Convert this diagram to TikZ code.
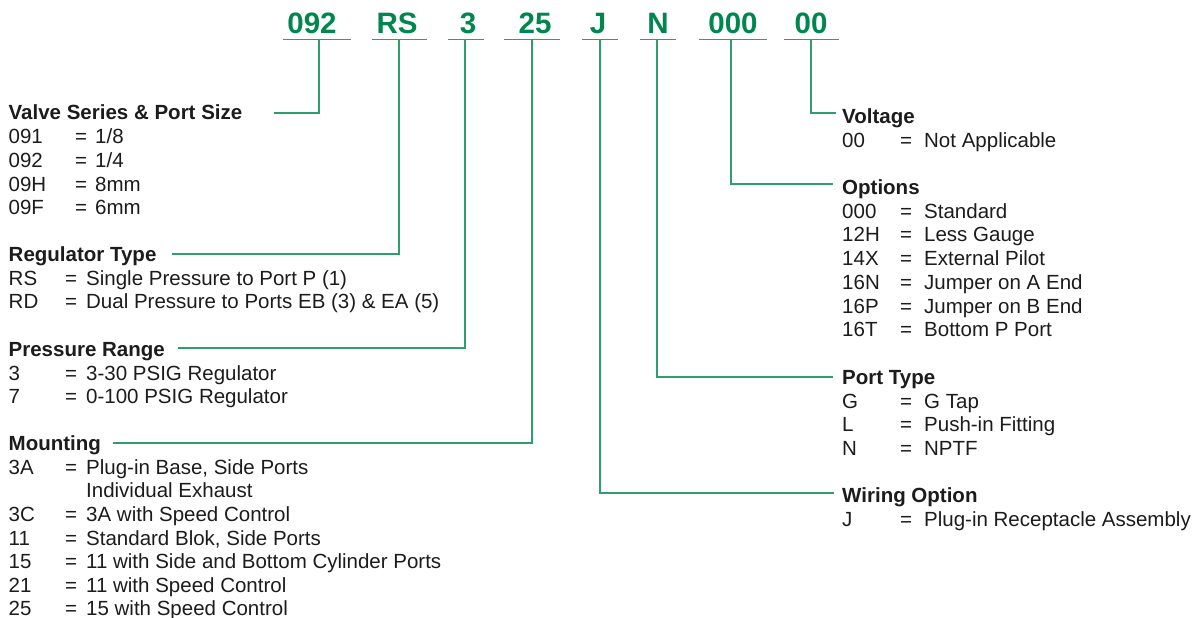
\documentclass[tikz,border=0pt]{standalone}
\usepackage{fontspec}
\setmainfont{Liberation Sans}
\usepackage{array}
\definecolor{codegreen}{RGB}{0,134,78}
\definecolor{linegreen}{RGB}{46,158,112}
\definecolor{ink}{RGB}{28,28,28}
\begin{document}
\begin{tikzpicture}[x=1pt,y=-1pt,
  code/.style={font=\fontsize{29.5}{30}\selectfont\bfseries, text=codegreen, inner sep=0pt, anchor=base},
  head/.style={font=\fontsize{20.5}{23.75}\selectfont\bfseries, text=ink, inner sep=0pt, text height=14.7pt, text depth=0pt, anchor=west},
  body/.style={font=\fontsize{20.5}{23.75}\selectfont, text=ink, inner sep=0pt, anchor=base west},
  mbody/.style={font=\fontsize{20.5}{23.6}\selectfont, text=ink, inner sep=0pt, anchor=base west},
  conn/.style={draw=linegreen, line width=1.2pt}]
\fill[white] (0,0) rectangle (1197,618);
\useasboundingbox (0,0) rectangle (1197,618);

% code row
\node[code] (c1) at (312,34) {092};
\node[code] (c2) at (397,34) {RS};
\node[code] (c3) at (468,34) {3};
\node[code] (c4) at (535,34) {25};
\node[code] (c5) at (598,34) {J};
\node[code] (c6) at (658,34) {N};
\node[code] (c7) at (733,34) {000};
\node[code] (c8) at (811,34) {00};

\coordinate (l1a) at (283,39.3); \coordinate (l1b) at (351,39.3);
\coordinate (l2a) at (372,39.3); \coordinate (l2b) at (427,39.3);
\coordinate (l3a) at (448,39.3); \coordinate (l3b) at (484,39.3);
\coordinate (l4a) at (504,39.3); \coordinate (l4b) at (560,39.3);
\coordinate (l5a) at (582,39.3); \coordinate (l5b) at (618,39.3);
\coordinate (l6a) at (640,39.3); \coordinate (l6b) at (676,39.3);
\coordinate (l7a) at (699,39.3); \coordinate (l7b) at (767,39.3);
\coordinate (l8a) at (784,39.3); \coordinate (l8b) at (839,39.3);
\foreach \i in {1,...,8} {\draw[conn] (l\i a) -- (l\i b);}

\coordinate (u1) at (319,39.3);
\coordinate (u2) at (399,39.3);
\coordinate (u3) at (465,39.3);
\coordinate (u4) at (532,39.3);
\coordinate (u5) at (600,39.3);
\coordinate (u6) at (657,39.3);
\coordinate (u7) at (731,39.3);
\coordinate (u8) at (811,39.3);

% left sections
\node[head] (hvalve) at (8.5,112.5) {Valve Series \& Port Size};
\node[body] (bvalve) at (8.5,143.6) {\begin{tabular}[t]{@{}p{66.5pt}@{}p{20pt}@{}l@{}}
091 & = & 1/8\\
092 & = & 1/4\\
09H & = & 8mm\\
09F & = & 6mm
\end{tabular}};

\node[head] (hreg) at (8.5,254) {Regulator Type};
\node[body] (breg) at (8.5,285.1) {\begin{tabular}[t]{@{}p{56.5pt}@{}p{21pt}@{}l@{}}
RS & = & Single Pressure to Port P (1)\\
RD & = & Dual Pressure to Ports EB (3) \& EA (5)
\end{tabular}};

\node[head] (hpress) at (8.5,349) {Pressure Range};
\node[body] (bpress) at (8.5,380.1) {\begin{tabular}[t]{@{}p{56.5pt}@{}p{21pt}@{}l@{}}
3 & = & 3-30 PSIG Regulator\\
7 & = & 0-100 PSIG Regulator
\end{tabular}};

\node[head] (hmount) at (8.5,443.5) {Mounting};
\node[mbody] (bmount) at (8.5,474.3) {\begin{tabular}[t]{@{}p{56.5pt}@{}p{21pt}@{}l@{}}
3A & = & Plug-in Base, Side Ports\\
 & & Individual Exhaust\\
3C & = & 3A with Speed Control\\
11 & = & Standard Blok, Side Ports\\
15 & = & 11 with Side and Bottom Cylinder Ports\\
21 & = & 11 with Speed Control\\
25 & = & 15 with Speed Control
\end{tabular}};

% right sections
\node[head] (hvolt) at (842,116.5) {Voltage};
\node[body] (bvolt) at (842,147.6) {\begin{tabular}[t]{@{}p{58pt}@{}p{24pt}@{}l@{}}
00 & = & Not Applicable
\end{tabular}};

\node[head] (hopt) at (842,187) {Options};
\node[body] (bopt) at (842,218.1) {\begin{tabular}[t]{@{}p{58pt}@{}p{24pt}@{}l@{}}
000 & = & Standard\\
12H & = & Less Gauge\\
14X & = & External Pilot\\
16N & = & Jumper on A End\\
16P & = & Jumper on B End\\
16T & = & Bottom P Port
\end{tabular}};

\node[head] (hport) at (842,377) {Port Type};
\node[body] (bport) at (842,408.1) {\begin{tabular}[t]{@{}p{58pt}@{}p{24pt}@{}l@{}}
G & = & G Tap\\
L & = & Push-in Fitting\\
N & = & NPTF
\end{tabular}};

\node[head] (hwire) at (842,495) {Wiring Option};
\node[body] (bwire) at (842,526.1) {\begin{tabular}[t]{@{}p{58pt}@{}p{24pt}@{}l@{}}
J & = & Plug-in Receptacle Assembly
\end{tabular}};

% connector free ends
\coordinate (e1) at (274,113);
\coordinate (e2) at (172,254);
\coordinate (e3) at (178,348);
\coordinate (e4) at (113,443);
\coordinate (e5) at (834,493);
\coordinate (e6) at (833,377);
\coordinate (e7) at (833,184);
\coordinate (e8) at (836,113);

\foreach \i in {1,...,8} {\draw[conn] (u\i) |- (e\i);}
\end{tikzpicture}
\end{document}
